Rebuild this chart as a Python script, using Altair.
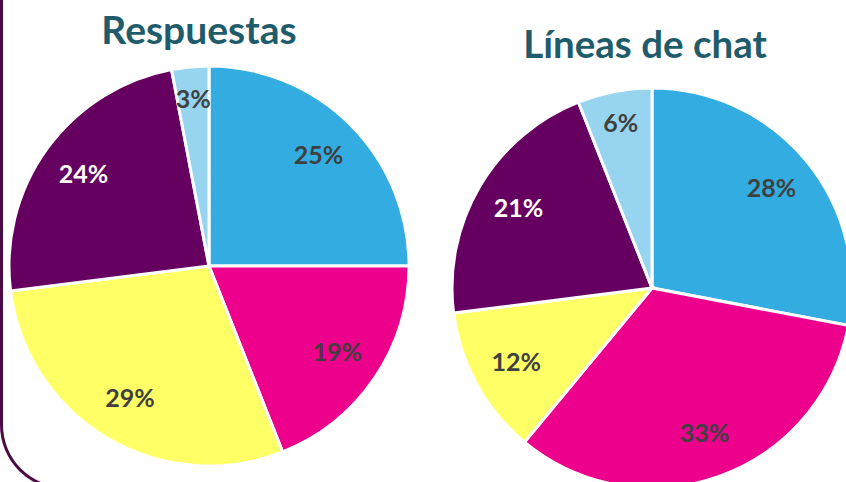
import altair as alt
import pandas as pd

# ---- data ----
categories = ["Categoría 1", "Categoría 2", "Categoría 3", "Categoría 4", "Categoría 5"]
respuestas = [25, 19, 29, 24, 3]
lineas_chat = [28, 33, 12, 21, 6]
palette = ["#33ADE1", "#EC008C", "#FFFF66", "#650060", "#97D4F0"]
titles = ["Respuestas", "Líneas de chat"]

FONT = "Lato"
FRAME = "#4B0B44"


def frame(values):
    return pd.DataFrame({
        "cat": categories,
        "v": values,
        "i": list(range(len(values))),
        "col": palette,
        "lbl": [f"{v}%" for v in values],
    })


def pie(values, cx, cy, r, label_r):
    df = frame(values)
    base = alt.Chart(df).encode(
        theta=alt.Theta("v:Q", stack=True),
        order=alt.Order("i:Q"),
        x=alt.value(cx),
        y=alt.value(cy),
    )
    arcs = base.mark_arc(outerRadius=r, stroke="white", strokeWidth=3).encode(
        color=alt.Color("col:N", scale=None)
    )
    layers = [arcs]
    # large slices keep labels at label_r, small slices sit a bit further out
    for expr, rad in (("datum.v >= 8", label_r), ("datum.v < 8", label_r + 12)):
        layers.append(
            base.transform_calculate(
                t=f"{expr} ? datum.lbl : ''"
            ).mark_text(
                radius=rad, font=FONT, fontWeight="bold", fontSize=25
            ).encode(
                text="t:N",
                color=alt.condition(
                    f"datum.cat == '{categories[3]}'",
                    alt.value("white"), alt.value("#404040")
                ),
            )
        )
    return layers


p1 = pie(respuestas, 209, 266, 200, 155)
p2 = pie(lineas_chat, 652, 288, 200, 155)

one = pd.DataFrame({"k": [0]})

title1 = alt.Chart(one).mark_text(
    text=titles[0], font=FONT, fontWeight="bold", fontSize=39, color="#1F5C6B",
    align="center", baseline="alphabetic"
).encode(x=alt.value(199), y=alt.value(44))
title2 = alt.Chart(one).mark_text(
    text=titles[1], font=FONT, fontWeight="bold", fontSize=38.5, color="#1F5C6B",
    align="center", baseline="alphabetic"
).encode(x=alt.value(645), y=alt.value(58))

frame_line = alt.Chart(one).mark_rule(color=FRAME, strokeWidth=3).encode(
    x=alt.value(1.5), y=alt.value(0), y2=alt.value(426)
)
frame_curve = alt.Chart(one).mark_arc(
    innerRadius=62, outerRadius=65, theta=3.14159265, theta2=4.71238898, color=FRAME
).encode(x=alt.value(65), y=alt.value(425))

chart = alt.layer(
    frame_line, frame_curve, *p1, *p2, title1, title2
).properties(
    width=846, height=482, autosize="none", padding=0, background="white"
).configure_view(stroke=None)

chart.save("out.html", embed_options={"renderer": "svg", "actions": False})
